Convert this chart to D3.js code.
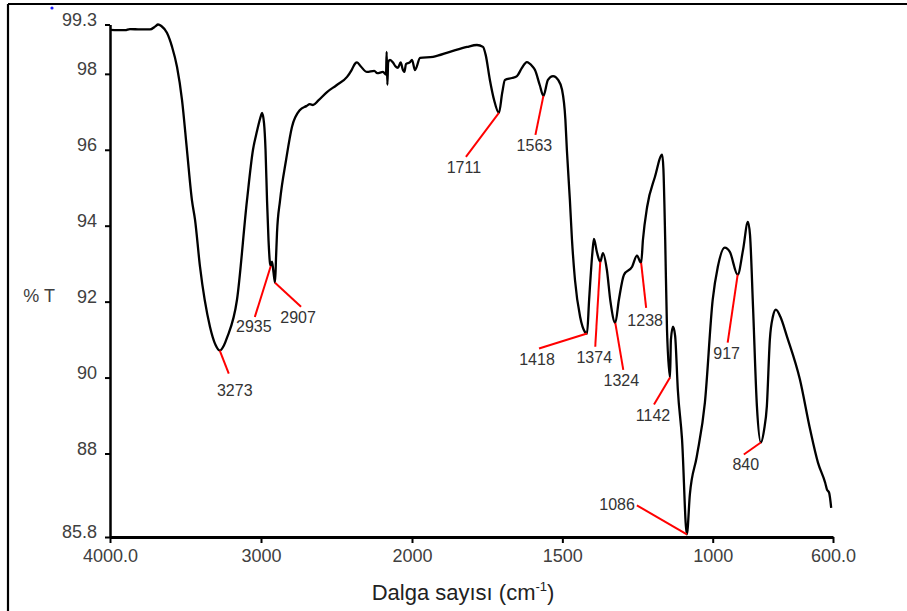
<!DOCTYPE html>
<html>
<head>
<meta charset="utf-8">
<script src="https://cdn.jsdelivr.net/npm/d3@7/dist/d3.min.js"></script>
<style>
  html, body { margin: 0; padding: 0; background: #fff; }
  svg { display: block; }
</style>
</head>
<body>
<svg id="chart" width="907" height="611"></svg>
<script>
// ---- data ----
const wavenumbers = [4000,3900,3868,3800,3735,3700,3682,3660,3623,3589,3556,3523,3490,3457,3437,3404,3338,3300,3273,3245,3225,3159,3093,3053,3026,3000,2993,2980,2970,2960,2950,2940,2935,2927,2918,2907,2900,2894,2874,2834,2795,2742,2700,2676,2656,2620,2563,2500,2430,2400,2377,2364,2340,2298,2250,2230,2192,2172,2168,2163,2158,2146,2126,2110,2093,2075,2060,2050,2040,2013,2000,1990,1973,1930,1874,1817,1784,1764,1755,1741,1727,1711,1700,1691,1667,1651,1635,1618,1600,1591,1575,1563,1548,1531,1514,1501,1490,1485,1475,1468,1458,1441,1425,1418,1411,1400,1395,1385,1374,1365,1352,1340,1324,1312,1295,1268,1252,1238,1232,1218,1192,1168,1164,1158,1152,1142,1139,1132,1125,1116,1102,1086,1076,1053,1026,1000,983,960,943,917,899,883,876,866,853,840,829,820,810,800,790,775,753,710,676,650,626,620,613,606];
const transmittance = [99.16,99.15,99.18,99.17,99.17,99.25,99.3,99.26,99.08,98.71,98.18,97.31,95.98,94.66,94.16,92.92,91.34,90.85,90.71,90.85,91.05,92.05,94.66,96.0,96.5,96.9,96.97,96.7,96.0,94.66,93.6,93.0,92.94,93.05,92.8,92.5,93.2,93.81,94.66,95.73,96.6,97.05,97.15,97.2,97.18,97.3,97.52,97.7,97.92,98.1,98.27,98.3,98.2,98.05,98.08,98.02,98.05,97.98,98.58,97.71,98.3,98.37,98.3,98.2,98.16,98.3,98.1,98.05,98.26,98.31,98.37,98.1,98.42,98.45,98.58,98.71,98.76,98.71,98.5,97.84,97.31,96.97,97.5,97.84,97.89,97.94,98.15,98.31,98.2,98.1,97.7,97.42,97.84,97.94,97.84,97.58,96.8,96.0,94.68,93.63,92.57,91.6,91.2,91.16,92.05,93.3,93.65,93.3,93.05,93.28,92.84,92.0,91.44,92.05,92.71,92.92,93.21,93.02,93.63,94.5,95.29,95.87,95.5,93.63,91.26,90.0,91.0,91.34,91.1,89.68,88.37,85.87,86.92,87.92,89.34,92.05,92.92,93.42,93.31,92.71,93.37,94.1,93.76,91.87,89.24,88.29,88.63,89.24,91.0,91.6,91.79,91.6,91.08,89.95,88.63,87.76,87.23,87.05,86.97,86.57];

const peakWavenumbers = [3273,2935,2907,1711,1563,1418,1374,1324,1238,1142,1086,917,840];
const peakTransmittance = [90.71,92.94,92.5,96.97,97.42,91.16,93.05,91.44,93.02,90.0,85.87,92.71,88.29];
const peakLabels = ["3273","2935","2907","1711","1563","1418","1374","1324","1238","1142","1086","917","840"];

const xTickValues = [4000,3000,2000,1500,1000,600];
const xTickLabels = ["4000.0","3000","2000","1500","1000","600.0"];
const yTickValues = [99.3,98,96,94,92,90,88,85.8];
const yTickLabels = ["99.3","98","96","94","92","90","88","85.8"];

// ---- layout (pixel offsets for annotation leader lines / labels) ----
const leaderEnd = [[9,23],[-16,51],[26,24],[-33,44],[-8,39],[-48,15],[-5,85],[8,47],[5,45],[-16,27],[-50,-29],[-10,68],[-17,12]];
const labelOffset = [[6,22],[-1,15],[-3,16],[-2,16],[-1,16],[-2,16],[-1,16],[-2,16],[-1,18],[-1,16],[-2,5],[-1,16],[2,16]];
const labelAnchor = ["middle","middle","middle","middle","middle","middle","middle","middle","middle","middle","end","middle","middle"];

const svg = d3.select("#chart");

// frame
svg.append("line").attr("x1",8).attr("y1",4).attr("x2",907).attr("y2",4).attr("stroke","#000").attr("stroke-width",2.2);
svg.append("line").attr("x1",8).attr("y1",4).attr("x2",8).attr("y2",611).attr("stroke","#000").attr("stroke-width",2.2);
svg.append("circle").attr("cx",52).attr("cy",8).attr("r",1.6).attr("fill","#1a1aff");

const x = d3.scaleLinear().domain([4000,2000,600]).range([110,412,833]);
const y = d3.scaleLinear().domain([85.8,99.3]).range([537,24.5]);

const tickFont = "'Liberation Sans', Arial, sans-serif";

// x axis
const xAxis = svg.append("g").attr("transform","translate(0,537)")
  .call(d3.axisBottom(x).tickValues(xTickValues).tickFormat((d,i)=>xTickLabels[i]).tickSize(6).tickSizeOuter(0));
xAxis.select(".domain").attr("stroke","#000").attr("stroke-width",3);
xAxis.selectAll(".tick line").attr("stroke","#000").attr("stroke-width",2);
xAxis.selectAll(".tick text").attr("font-family",tickFont).attr("font-size",18).attr("fill","#404040").attr("y",12);

// y axis
const yAxis = svg.append("g").attr("transform","translate(110,0)")
  .call(d3.axisLeft(y).tickValues(yTickValues).tickFormat((d,i)=>yTickLabels[i]).tickSize(5).tickSizeOuter(0));
yAxis.select(".domain").attr("stroke","#000").attr("stroke-width",2.5);
yAxis.selectAll(".tick line").attr("stroke","#000").attr("stroke-width",2);
yAxis.selectAll(".tick text").attr("font-family",tickFont).attr("font-size",18).attr("fill","#404040").attr("x",-13).attr("dy","0.05em");

// axis titles
svg.append("text").attr("x",55).attr("y",302).attr("text-anchor","end")
  .attr("font-family","'Liberation Sans Narrow', 'Liberation Sans', Arial, sans-serif").attr("font-size",18).attr("fill","#404040").text("% T");
const title = svg.append("text").attr("x",463).attr("y",600).attr("text-anchor","middle")
  .attr("font-family",tickFont).attr("font-size",22).attr("fill","#222");
title.append("tspan").text("Dalga sayısı (cm");
title.append("tspan").attr("font-size",13).attr("dy",-9).text("-1");
title.append("tspan").attr("dy",9).text(")");

// spectrum
const data = wavenumbers.map((w,i)=>({w, t: transmittance[i]}));
svg.append("path").datum(data)
  .attr("fill","none").attr("stroke","#000").attr("stroke-width",2.3).attr("stroke-linejoin","round")
  .attr("d", d3.line().x(d=>x(d.w)).y(d=>y(d.t)).curve(d3.curveMonotoneX));

// annotations
const ann = svg.append("g");
peakWavenumbers.forEach((w,i)=>{
  const px = x(w), py = y(peakTransmittance[i]);
  const ex = px + leaderEnd[i][0], ey = py + leaderEnd[i][1];
  ann.append("line").attr("x1",px).attr("y1",py).attr("x2",ex).attr("y2",ey)
    .attr("stroke","#ff0000").attr("stroke-width",2);
  ann.append("text").attr("x",ex+labelOffset[i][0]).attr("y",ey+labelOffset[i][1])
    .attr("text-anchor",labelAnchor[i])
    .attr("font-family","'Liberation Sans Narrow', 'Arial Narrow', sans-serif")
    .attr("font-size",16).attr("fill","#333").text(peakLabels[i]);
});
</script>
</body>
</html>
